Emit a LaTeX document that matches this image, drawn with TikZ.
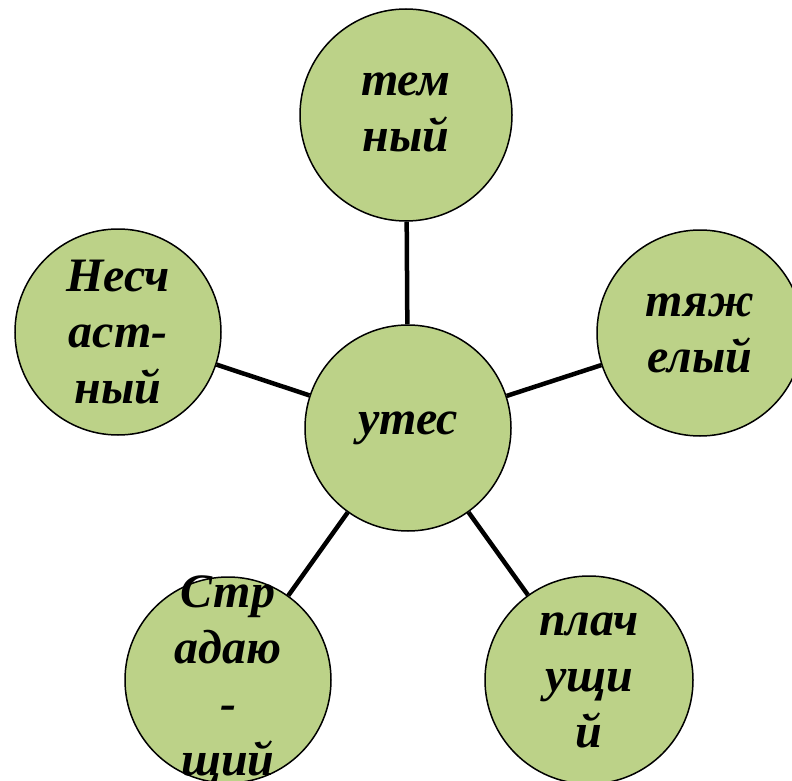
\documentclass[tikz,border=0pt]{standalone}
\usepackage{fontspec}
\setmainfont{Liberation Serif}
\usetikzlibrary{backgrounds}
\definecolor{leaf}{HTML}{BCD288}
\tikzset{
  bubble/.style={circle, draw=black, line width=1.5pt, fill=leaf, inner sep=0pt, minimum size=#1},
  bubble/.default=206pt,
  word/.style={align=center, inner sep=0pt, font=\fontsize{48}{56}\selectfont\bfseries\itshape},
  conn/.style={line width=4.5pt, black}
}
\begin{document}
\begin{tikzpicture}[x=1pt,y=-1pt]
\useasboundingbox (0,0) rectangle (792,781);
\clip (0,0) rectangle (792,781);
\node[bubble] (c) at (408,428) {};
\node[bubble=212pt] (top) at (406,115) {};
\node[bubble] (right) at (700,333) {};
\node[bubble] (left) at (118,332) {};
\node[bubble] (bl) at (228,680) {};
\node[bubble=208pt] (br) at (589,680) {};
\begin{scope}[on background layer]
\draw[conn] (c) -- (top);
\draw[conn] (c) -- (right);
\draw[conn] (c) -- (left);
\draw[conn] (c) -- (bl);
\draw[conn] (c) -- (br);
\end{scope}
\node[word] (tc) at (c) {утес};
\node[word] (ttop) at ([yshift=3pt]top.center) {тем\\ный};
\node[word] (tright) at (right) {тяж\\елый};
\node[word] (tleft) at (left) {Несч\\аст-\\ный};
\node[word] (tbl) at (bl) {Стр\\адаю\\-\\щий};
\node[word] (tbr) at (br) {плач\\ущи\\й};
\end{tikzpicture}
\end{document}
